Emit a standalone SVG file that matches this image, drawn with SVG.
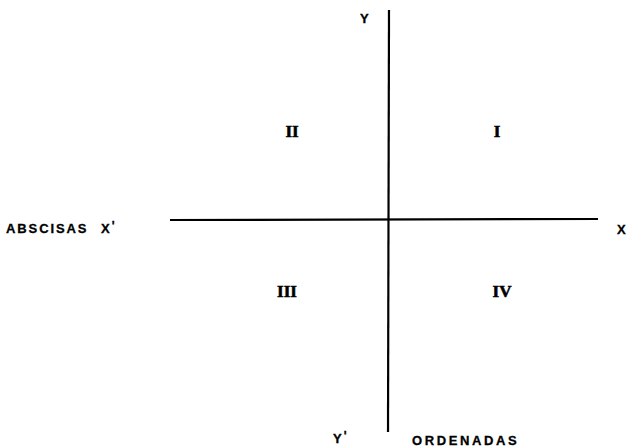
<svg xmlns="http://www.w3.org/2000/svg" width="628" height="447" viewBox="0 0 628 447">
<style>
.lbl{font-family:"Liberation Sans",Arial,sans-serif;font-weight:bold;font-size:13px;fill:#000;stroke:#000;stroke-width:0.3}
.rom{font-family:"Liberation Serif","Times New Roman",serif;font-weight:bold;font-size:17px;fill:#000;text-anchor:middle;stroke:#000;stroke-width:0.6}
.ax{stroke:#000;stroke-width:2.2;fill:none}
</style>
<rect width="628" height="447" fill="#fff"/>
<g id="axes">
<line class="ax" x1="170" y1="220" x2="598" y2="219"/>
<line class="ax" x1="389" y1="10" x2="388" y2="432"/>
</g>
<g id="labels">
<text class="lbl" x="360" y="23">Y</text>
<text class="lbl" x="617" y="234">X</text>
<text class="lbl" x="6" y="233" letter-spacing="1.9">ABSCISAS</text>
<text class="lbl" x="101" y="233">X<tspan dx="2" dy="-3" font-size="12">'</tspan></text>
<text class="lbl" x="333" y="443">Y<tspan dx="2" dy="-3" font-size="12">'</tspan></text>
<text class="lbl" x="412" y="445" letter-spacing="2.6">ORDENADAS</text>
</g>
<g id="quadrants">
<text class="rom" x="292" y="137">II</text>
<text class="rom" x="497" y="137">I</text>
<text class="rom" x="287" y="297">III</text>
<text class="rom" x="502" y="297">IV</text>
</g>
</svg>
